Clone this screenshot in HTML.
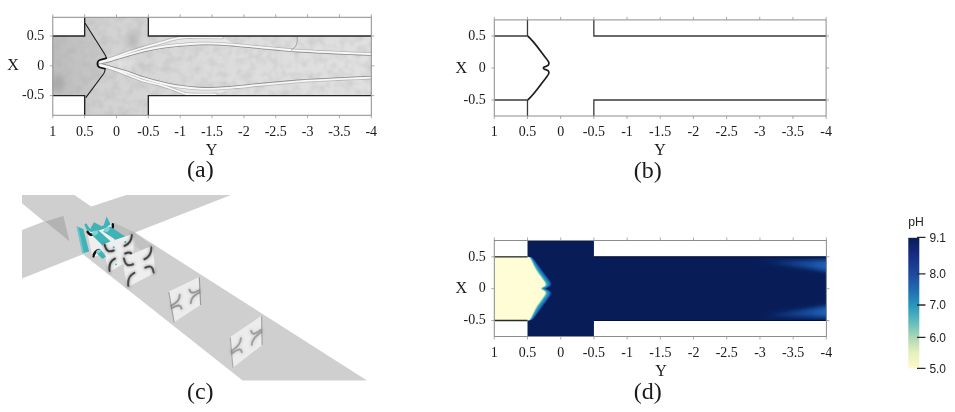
<!DOCTYPE html>
<html lang="en"><head><meta charset="utf-8"><title>Figure</title>
<style>
html,body{margin:0;padding:0;background:#fff;}
body{width:955px;height:412px;overflow:hidden;}
svg{display:block;}
</style></head><body>
<svg width="955" height="412" viewBox="0 0 955 412">
<defs>
<linearGradient id="ga" x1="0" x2="1" y1="0" y2="0">
<stop offset="0" stop-color="#cccccc"/><stop offset="0.3" stop-color="#d6d6d6"/><stop offset="0.6" stop-color="#dedede"/><stop offset="1" stop-color="#e0e0e0"/>
</linearGradient>
<linearGradient id="gl" x1="53" x2="106" y1="0" y2="0" gradientUnits="userSpaceOnUse">
<stop offset="0" stop-color="#bdbdbd"/><stop offset="1" stop-color="#c8c8c8"/></linearGradient>
<filter id="noise" x="0" y="0" width="100%" height="100%"><feTurbulence type="fractalNoise" baseFrequency="0.11" numOctaves="2" seed="11" result="t"/>
<feColorMatrix in="t" type="matrix" values="0 0 0 0 0.42  0 0 0 0 0.42  0 0 0 0 0.42  2.4 0 0 0 -0.95"/></filter>
<filter id="blur0" x="-5%" y="-30%" width="110%" height="160%"><feGaussianBlur stdDeviation="0.45"/></filter>
<filter id="blur1" x="-10%" y="-20%" width="120%" height="140%"><feGaussianBlur stdDeviation="0.7"/></filter>
<filter id="blur2" x="-20%" y="-20%" width="140%" height="140%"><feGaussianBlur stdDeviation="1.2"/></filter>
<filter id="blur2b" x="-20%" y="-40%" width="140%" height="180%"><feGaussianBlur stdDeviation="2.2"/></filter>
<filter id="blur3" x="-20%" y="-20%" width="140%" height="140%"><feGaussianBlur stdDeviation="3"/></filter>
<linearGradient id="cb" x1="0" x2="0" y1="0" y2="1">
<stop offset="0" stop-color="#081d58"/>
<stop offset="0.14" stop-color="#182d85"/>
<stop offset="0.28" stop-color="#1e4a9f"/>
<stop offset="0.40" stop-color="#1e6db0"/>
<stop offset="0.52" stop-color="#2897bd"/>
<stop offset="0.63" stop-color="#58b8bd"/>
<stop offset="0.765" stop-color="#aed8b5"/>
<stop offset="0.88" stop-color="#e6f0bb"/>
<stop offset="1" stop-color="#fff8cf"/>
</linearGradient>
</defs>
<rect width="955" height="412" fill="#fff"/>

<g id="panel-a">
<clipPath id="clipa"><path d="M52.8 36H84.65V17.3H148.35V36H371.3V95.6H148.35V115.3H84.65V95.6H52.8Z"/></clipPath>
<path d="M52.8 36H84.65V17.3H148.35V36H371.3V95.6H148.35V115.3H84.65V95.6H52.8Z" fill="url(#ga)"/>
<g clip-path="url(#clipa)">
<path d="M50 10 H85.3 V23.5 L105.5 56 L99.6 60 L97.4 63.5 L99.6 67.3 L105 69.5 L86 97.3 V120 H50 Z" fill="url(#gl)"/>
<g filter="url(#blur3)">
<ellipse cx="133" cy="40" rx="6" ry="9" fill="#9a9a9a" opacity="0.45"/>
<ellipse cx="58" cy="83" rx="6" ry="8" fill="#8c8c8c" opacity="0.45"/>
<ellipse cx="120" cy="64" rx="16" ry="4" fill="#ececec" opacity="0.7"/>
<ellipse cx="230" cy="65" rx="60" ry="12" fill="#dcdcdc" opacity="0.5"/>
</g>
<rect x="50" y="14" width="325" height="104" filter="url(#noise)" opacity="0.3"/>
<path d="M99.6 61.5 C101.33 61.07,105.43 60.33,110 58.9 C114.57 57.47,121.33 54.8,127 52.9 C132.67 51,138.33 49.2,144 47.5 C149.67 45.8,155.92 44.15,161 42.7 C166.08 41.25,170.55 39.7,174.5 38.8 C178.45 37.9,180.45 37.55,184.7 37.3 C188.95 37.05,193.78 37.25,200 37.3 C206.22 37.35,218.33 37.55,222 37.6 L237 45 C233.83 44.77,224.5 43.85,218 43.6 C211.5 43.35,204.67 43.27,198 43.5 C191.33 43.73,184.17 44.42,178 45 C171.83 45.58,166.67 46.1,161 47 C155.33 47.9,149.67 49.05,144 50.4 C138.33 51.75,132.67 53.47,127 55.1 C121.33 56.73,114.5 58.95,110 60.2 C105.5 61.45,101.67 62.2,100 62.6 Z" fill="#f2f2f2" opacity="0.55"/>
<path d="M99.6 65.9 C101.33 66.28,105.43 66.77,110 68.2 C114.57 69.63,121.33 72.38,127 74.5 C132.67 76.62,138.33 79.12,144 80.9 C149.67 82.68,155.33 83.5,161 85.2 C166.67 86.9,173.77 89.63,178 91.1 C182.23 92.57,183.07 93.43,186.4 94 C189.73 94.57,193.07 94.45,198 94.5 C202.93 94.55,213 94.33,216 94.3 L237 87.2 C233.83 87.43,224.5 88.37,218 88.6 C211.5 88.83,204.67 88.95,198 88.6 C191.33 88.25,184.17 87.43,178 86.5 C171.83 85.57,166.67 84.35,161 83 C155.33 81.65,149.67 80.17,144 78.4 C138.33 76.63,132.67 74.23,127 72.4 C121.33 70.57,114.5 68.67,110 67.4 C105.5 66.13,101.67 65.23,100 64.8 Z" fill="#f2f2f2" opacity="0.55"/>
<g fill="none" stroke-linecap="round" stroke-linejoin="round">
<path d="M100 62.6 C101.67 62.2,105.5 61.45,110 60.2 C114.5 58.95,121.33 56.73,127 55.1 C132.67 53.47,138.33 51.75,144 50.4 C149.67 49.05,155.33 47.9,161 47 C166.67 46.1,171.83 45.58,178 45 C184.17 44.42,191.33 43.73,198 43.5 C204.67 43.27,211.5 43.35,218 43.6 C224.5 43.85,230.58 44.45,237 45 C243.42 45.55,250 46.28,256.5 46.9 C263 47.52,269.58 48.12,276 48.7 C282.42 49.28,287.67 49.88,295 50.4 C302.33 50.92,311.67 51.37,320 51.8 C328.33 52.23,336.45 52.63,345 53 C353.55 53.37,366.92 53.83,371.3 54" stroke="#707070" stroke-width="0.9" opacity="0.85" transform="translate(0,1.3)"/>
<path d="M100 64.8 C101.67 65.23,105.5 66.13,110 67.4 C114.5 68.67,121.33 70.57,127 72.4 C132.67 74.23,138.33 76.63,144 78.4 C149.67 80.17,155.33 81.65,161 83 C166.67 84.35,171.83 85.57,178 86.5 C184.17 87.43,191.33 88.25,198 88.6 C204.67 88.95,211.5 88.83,218 88.6 C224.5 88.37,230.58 87.77,237 87.2 C243.42 86.63,250 85.85,256.5 85.2 C263 84.55,268.75 83.95,276 83.3 C283.25 82.65,291 81.92,300 81.3 C309 80.68,321.67 80.05,330 79.6 C338.33 79.15,343.12 78.92,350 78.6 C356.88 78.28,367.75 77.85,371.3 77.7" stroke="#707070" stroke-width="0.9" opacity="0.85" transform="translate(0,-1.3)"/>
<path d="M99.6 61.5 C101.33 61.07,105.43 60.33,110 58.9 C114.57 57.47,121.33 54.8,127 52.9 C132.67 51,138.33 49.2,144 47.5 C149.67 45.8,155.92 44.15,161 42.7 C166.08 41.25,170.55 39.7,174.5 38.8 C178.45 37.9,180.45 37.55,184.7 37.3 C188.95 37.05,193.78 37.25,200 37.3 C206.22 37.35,218.33 37.55,222 37.6" stroke="#9c9c9c" stroke-width="3.4" opacity="0.6" filter="url(#blur1)"/>
<path d="M100 62.6 C101.67 62.2,105.5 61.45,110 60.2 C114.5 58.95,121.33 56.73,127 55.1 C132.67 53.47,138.33 51.75,144 50.4 C149.67 49.05,155.33 47.9,161 47 C166.67 46.1,171.83 45.58,178 45 C184.17 44.42,191.33 43.73,198 43.5 C204.67 43.27,211.5 43.35,218 43.6 C224.5 43.85,230.58 44.45,237 45 C243.42 45.55,250 46.28,256.5 46.9 C263 47.52,269.58 48.12,276 48.7 C282.42 49.28,287.67 49.88,295 50.4 C302.33 50.92,311.67 51.37,320 51.8 C328.33 52.23,336.45 52.63,345 53 C353.55 53.37,366.92 53.83,371.3 54" stroke="#9c9c9c" stroke-width="3.4" opacity="0.6" filter="url(#blur1)"/>
<path d="M99.6 65.9 C101.33 66.28,105.43 66.77,110 68.2 C114.57 69.63,121.33 72.38,127 74.5 C132.67 76.62,138.33 79.12,144 80.9 C149.67 82.68,155.33 83.5,161 85.2 C166.67 86.9,173.77 89.63,178 91.1 C182.23 92.57,183.07 93.43,186.4 94 C189.73 94.57,193.07 94.45,198 94.5 C202.93 94.55,213 94.33,216 94.3" stroke="#9c9c9c" stroke-width="3.4" opacity="0.6" filter="url(#blur1)"/>
<path d="M100 64.8 C101.67 65.23,105.5 66.13,110 67.4 C114.5 68.67,121.33 70.57,127 72.4 C132.67 74.23,138.33 76.63,144 78.4 C149.67 80.17,155.33 81.65,161 83 C166.67 84.35,171.83 85.57,178 86.5 C184.17 87.43,191.33 88.25,198 88.6 C204.67 88.95,211.5 88.83,218 88.6 C224.5 88.37,230.58 87.77,237 87.2 C243.42 86.63,250 85.85,256.5 85.2 C263 84.55,268.75 83.95,276 83.3 C283.25 82.65,291 81.92,300 81.3 C309 80.68,321.67 80.05,330 79.6 C338.33 79.15,343.12 78.92,350 78.6 C356.88 78.28,367.75 77.85,371.3 77.7" stroke="#9c9c9c" stroke-width="3.4" opacity="0.6" filter="url(#blur1)"/>
<path d="M99.6 61.5 C101.33 61.07,105.43 60.33,110 58.9 C114.57 57.47,121.33 54.8,127 52.9 C132.67 51,138.33 49.2,144 47.5 C149.67 45.8,155.92 44.15,161 42.7 C166.08 41.25,170.55 39.7,174.5 38.8 C178.45 37.9,180.45 37.55,184.7 37.3 C188.95 37.05,193.78 37.25,200 37.3 C206.22 37.35,218.33 37.55,222 37.6" stroke="#f8f8f8" stroke-width="1.8" filter="url(#blur0)"/>
<path d="M100 62.6 C101.67 62.2,105.5 61.45,110 60.2 C114.5 58.95,121.33 56.73,127 55.1 C132.67 53.47,138.33 51.75,144 50.4 C149.67 49.05,155.33 47.9,161 47 C166.67 46.1,171.83 45.58,178 45 C184.17 44.42,191.33 43.73,198 43.5 C204.67 43.27,211.5 43.35,218 43.6 C224.5 43.85,230.58 44.45,237 45 C243.42 45.55,250 46.28,256.5 46.9 C263 47.52,269.58 48.12,276 48.7 C282.42 49.28,287.67 49.88,295 50.4 C302.33 50.92,311.67 51.37,320 51.8 C328.33 52.23,336.45 52.63,345 53 C353.55 53.37,366.92 53.83,371.3 54" stroke="#f8f8f8" stroke-width="1.8" filter="url(#blur0)"/>
<path d="M99.6 65.9 C101.33 66.28,105.43 66.77,110 68.2 C114.57 69.63,121.33 72.38,127 74.5 C132.67 76.62,138.33 79.12,144 80.9 C149.67 82.68,155.33 83.5,161 85.2 C166.67 86.9,173.77 89.63,178 91.1 C182.23 92.57,183.07 93.43,186.4 94 C189.73 94.57,193.07 94.45,198 94.5 C202.93 94.55,213 94.33,216 94.3" stroke="#f8f8f8" stroke-width="1.8" filter="url(#blur0)"/>
<path d="M100 64.8 C101.67 65.23,105.5 66.13,110 67.4 C114.5 68.67,121.33 70.57,127 72.4 C132.67 74.23,138.33 76.63,144 78.4 C149.67 80.17,155.33 81.65,161 83 C166.67 84.35,171.83 85.57,178 86.5 C184.17 87.43,191.33 88.25,198 88.6 C204.67 88.95,211.5 88.83,218 88.6 C224.5 88.37,230.58 87.77,237 87.2 C243.42 86.63,250 85.85,256.5 85.2 C263 84.55,268.75 83.95,276 83.3 C283.25 82.65,291 81.92,300 81.3 C309 80.68,321.67 80.05,330 79.6 C338.33 79.15,343.12 78.92,350 78.6 C356.88 78.28,367.75 77.85,371.3 77.7" stroke="#f8f8f8" stroke-width="1.8" filter="url(#blur0)"/>
</g>
<path d="M297 37 C298 43,296 48,291 50" fill="none" stroke="#8a8a8a" stroke-width="0.9" opacity="0.8"/>
</g>
<path d="M52.8 36H84.65V17.3M148.35 17.3V36H371.3M52.8 95.6H84.65V115.3M148.35 115.3V95.6H371.3" fill="none" stroke="#242424" stroke-width="1.35"/>
<path d="M85.3 23.5 L104.3 53.5 C105.6 55.5,106.2 56.6,106.3 58" fill="none" stroke="#1a1a1a" stroke-width="1.1" stroke-linecap="round"/>
<path d="M106.3 58.3 C104 59,101.5 59.4,99.8 60 C96.6 61.2,96.6 66.2,99.8 67.4 C101.5 68,103.5 68.3,105 68.8" fill="none" stroke="#111" stroke-width="1.6" stroke-linecap="round"/>
<path d="M105 68.8 C105.3 70.5,104.8 72,103.8 73.5 L86 97.3" fill="none" stroke="#1a1a1a" stroke-width="1.1" stroke-linecap="round"/>
<rect x="52.8" y="17.3" width="318.5" height="98" fill="none" stroke="#8c8c8c" stroke-width="1"/>
<path d="M52.8 115.3v3M52.8 17.3v-3M84.65 115.3v3M84.65 17.3v-3M116.5 115.3v3M116.5 17.3v-3M148.35 115.3v3M148.35 17.3v-3M180.2 115.3v3M180.2 17.3v-3M212.05 115.3v3M212.05 17.3v-3M243.9 115.3v3M243.9 17.3v-3M275.75 115.3v3M275.75 17.3v-3M307.6 115.3v3M307.6 17.3v-3M339.45 115.3v3M339.45 17.3v-3M371.3 115.3v3M371.3 17.3v-3M52.8 36h-3M371.3 36h3M52.8 65.8h-3M371.3 65.8h3M52.8 95.6h-3M371.3 95.6h3" fill="none" stroke="#969696" stroke-width="0.8"/>
<g font-family='"Liberation Serif", "DejaVu Serif", serif' font-size="14" fill="#1a1a1a">
<text x="52.8" y="135.6" text-anchor="middle">1</text>
<text x="84.65" y="135.6" text-anchor="middle">0.5</text>
<text x="116.5" y="135.6" text-anchor="middle">0</text>
<text x="148.35" y="135.6" text-anchor="middle">-0.5</text>
<text x="180.2" y="135.6" text-anchor="middle">-1</text>
<text x="212.05" y="135.6" text-anchor="middle">-1.5</text>
<text x="243.9" y="135.6" text-anchor="middle">-2</text>
<text x="275.75" y="135.6" text-anchor="middle">-2.5</text>
<text x="307.6" y="135.6" text-anchor="middle">-3</text>
<text x="339.45" y="135.6" text-anchor="middle">-3.5</text>
<text x="371.3" y="135.6" text-anchor="middle">-4</text>
<text x="44.2" y="39.8" text-anchor="end">0.5</text>
<text x="44.2" y="69.6" text-anchor="end">0</text>
<text x="44.2" y="99.4" text-anchor="end">-0.5</text>
</g>
<text x="211.5" y="154.6" text-anchor="middle" font-family='"Liberation Serif", "DejaVu Serif", serif' font-size="16" fill="#1a1a1a">Y</text>
<text x="13" y="70.3" text-anchor="middle" font-family='"Liberation Serif", "DejaVu Serif", serif' font-size="16" fill="#1a1a1a">X</text>
<text x="200.4" y="177.1" text-anchor="middle" font-family='"Liberation Serif", "DejaVu Serif", serif' font-size="24" fill="#1a1a1a">(a)</text>
</g>
<g id="panel-b">
<path d="M494.3 36H527.48M527.48 19.9V36M593.84 19.9V36H826.1M494.3 100H527.48M527.48 116V100M593.84 116V100H826.1" fill="none" stroke="#3a3a3a" stroke-width="1.3"/>
<path d="M527.6 36 C533 40,541 52,547 59.5 C550 63,549.5 65.5,546 66.3 C542.5 67,542.5 69,546 69.7 C549.5 70.5,550 73,547 76.5 C541 84,533 96,527.6 100" fill="none" stroke="#1e1e1e" stroke-width="1.7"/>
<rect x="494.3" y="19.9" width="331.8" height="96.1" fill="none" stroke="#8c8c8c" stroke-width="1"/>
<path d="M494.3 116v3M494.3 19.9v-3M527.48 116v3M527.48 19.9v-3M560.66 116v3M560.66 19.9v-3M593.84 116v3M593.84 19.9v-3M627.02 116v3M627.02 19.9v-3M660.2 116v3M660.2 19.9v-3M693.38 116v3M693.38 19.9v-3M726.56 116v3M726.56 19.9v-3M759.74 116v3M759.74 19.9v-3M792.92 116v3M792.92 19.9v-3M826.1 116v3M826.1 19.9v-3M494.3 36h-3M826.1 36h3M494.3 68h-3M826.1 68h3M494.3 100h-3M826.1 100h3" fill="none" stroke="#969696" stroke-width="0.8"/>
<g font-family='"Liberation Serif", "DejaVu Serif", serif' font-size="14" fill="#1a1a1a">
<text x="494.3" y="135.6" text-anchor="middle">1</text>
<text x="527.48" y="135.6" text-anchor="middle">0.5</text>
<text x="560.66" y="135.6" text-anchor="middle">0</text>
<text x="593.84" y="135.6" text-anchor="middle">-0.5</text>
<text x="627.02" y="135.6" text-anchor="middle">-1</text>
<text x="660.2" y="135.6" text-anchor="middle">-1.5</text>
<text x="693.38" y="135.6" text-anchor="middle">-2</text>
<text x="726.56" y="135.6" text-anchor="middle">-2.5</text>
<text x="759.74" y="135.6" text-anchor="middle">-3</text>
<text x="792.92" y="135.6" text-anchor="middle">-3.5</text>
<text x="826.1" y="135.6" text-anchor="middle">-4</text>
<text x="485.7" y="39.8" text-anchor="end">0.5</text>
<text x="485.7" y="71.8" text-anchor="end">0</text>
<text x="485.7" y="103.8" text-anchor="end">-0.5</text>
</g>
<text x="660" y="155.3" text-anchor="middle" font-family='"Liberation Serif", "DejaVu Serif", serif' font-size="16" fill="#1a1a1a">Y</text>
<text x="461.3" y="72.5" text-anchor="middle" font-family='"Liberation Serif", "DejaVu Serif", serif' font-size="16" fill="#1a1a1a">X</text>
<text x="647.8" y="178.4" text-anchor="middle" font-family='"Liberation Serif", "DejaVu Serif", serif' font-size="24" fill="#1a1a1a">(b)</text>
</g>
<g id="panel-d">
<clipPath id="clipd"><rect x="494.3" y="256.8" width="70" height="63.7"/></clipPath>
<clipPath id="clipd2"><rect x="593.93" y="256.8" width="232.47" height="63.7"/></clipPath>
<path d="M527.51 240.5H593.93V256.8H826.4V320.5H593.93V336.5H527.51Z" fill="#081d58"/>
<g clip-path="url(#clipd)">
<path d="M480 320.5 V256.8 L529.8 256.8 C530.47 257.13,531.73 256.7,533.8 258.8 C535.87 260.9,539.83 266.37,542.2 269.4 C544.57 272.43,546.48 274.97,548 277 C549.52 279.03,550.63 280.37,551.3 281.6 C551.97 282.83,552.12 283.57,552 284.4 C551.88 285.23,551.3 286.03,550.6 286.6 C549.9 287.17,548.43 287.46,547.8 287.8 C547.17 288.14,546.8 288.37,546.8 288.65 C546.8 288.93,547.17 289.16,547.8 289.5 C548.43 289.84,549.9 290.13,550.6 290.7 C551.3 291.27,551.88 292.07,552 292.9 C552.12 293.73,551.97 294.47,551.3 295.7 C550.63 296.93,549.52 298.27,548 300.3 C546.48 302.33,544.57 304.87,542.2 307.9 C539.83 310.93,535.87 316.4,533.8 318.5 C531.73 320.6,530.47 320.17,529.8 320.5 Z" fill="#0b2775"/>
<path d="M480 320.5 V256.8 L529.55 256.8 C530.18 257.13,531.38 256.7,533.35 258.8 C535.32 260.9,539.05 266.36,541.35 269.4 C543.65 272.44,545.61 275.01,547.12 277.06 C548.64 279.11,549.76 280.46,550.42 281.69 C551.09 282.92,551.24 283.63,551.12 284.45 C551.01 285.27,550.41 286.04,549.73 286.6 C549.04 287.16,547.61 287.45,547 287.79 C546.39 288.13,546.05 288.36,546.05 288.65 C546.05 288.94,546.39 289.17,547 289.51 C547.61 289.85,549.04 290.14,549.73 290.7 C550.41 291.26,551.01 292.03,551.12 292.85 C551.24 293.67,551.09 294.38,550.42 295.61 C549.76 296.84,548.64 298.19,547.12 300.24 C545.61 302.29,543.65 304.86,541.35 307.9 C539.05 310.94,535.32 316.4,533.35 318.5 C531.38 320.6,530.18 320.17,529.55 320.5 Z" fill="#18409a"/>
<path d="M480 320.5 V256.8 L529.3 256.8 C529.9 257.13,531.03 256.7,532.9 258.8 C534.77 260.9,538.27 266.35,540.5 269.4 C542.73 272.45,544.74 275.06,546.25 277.12 C547.76 279.19,548.88 280.55,549.55 281.78 C550.22 283,550.37 283.7,550.25 284.5 C550.13 285.3,549.53 286.05,548.85 286.6 C548.17 287.15,546.79 287.43,546.2 287.77 C545.61 288.12,545.3 288.36,545.3 288.65 C545.3 288.94,545.61 289.18,546.2 289.52 C546.79 289.87,548.17 290.15,548.85 290.7 C549.53 291.25,550.13 292,550.25 292.8 C550.37 293.6,550.22 294.3,549.55 295.52 C548.88 296.75,547.76 298.11,546.25 300.17 C544.74 302.24,542.73 304.85,540.5 307.9 C538.27 310.95,534.77 316.4,532.9 318.5 C531.03 320.6,529.9 320.17,529.3 320.5 Z" fill="#2062ad"/>
<path d="M480 320.5 V256.8 L529.05 256.8 C529.62 257.13,530.68 256.7,532.45 258.8 C534.22 260.9,537.5 266.34,539.65 269.4 C541.8 272.46,543.87 275.11,545.38 277.19 C546.88 279.26,548.01 280.64,548.67 281.86 C549.34 283.09,549.49 283.76,549.38 284.55 C549.26 285.34,548.64 286.06,547.98 286.6 C547.31 287.14,545.97 287.42,545.4 287.76 C544.83 288.1,544.55 288.35,544.55 288.65 C544.55 288.95,544.83 289.2,545.4 289.54 C545.97 289.88,547.31 290.16,547.98 290.7 C548.64 291.24,549.26 291.96,549.38 292.75 C549.49 293.54,549.34 294.21,548.67 295.44 C548.01 296.66,546.88 298.04,545.38 300.11 C543.87 302.19,541.8 304.84,539.65 307.9 C537.5 310.96,534.22 316.4,532.45 318.5 C530.68 320.6,529.62 320.17,529.05 320.5 Z" fill="#1f80b8"/>
<path d="M480 320.5 V256.8 L528.8 256.8 C529.33 257.13,530.33 256.7,532 258.8 C533.67 260.9,536.72 266.32,538.8 269.4 C540.88 272.47,543 275.16,544.5 277.25 C546 279.34,547.13 280.73,547.8 281.95 C548.47 283.18,548.62 283.83,548.5 284.6 C548.38 285.38,547.75 286.08,547.1 286.6 C546.45 287.12,545.15 287.41,544.6 287.75 C544.05 288.09,543.8 288.35,543.8 288.65 C543.8 288.95,544.05 289.21,544.6 289.55 C545.15 289.89,546.45 290.17,547.1 290.7 C547.75 291.22,548.38 291.92,548.5 292.7 C548.62 293.47,548.47 294.12,547.8 295.35 C547.13 296.57,546 297.96,544.5 300.05 C543 302.14,540.88 304.82,538.8 307.9 C536.72 310.97,533.67 316.4,532 318.5 C530.33 320.6,529.33 320.17,528.8 320.5 Z" fill="#1d91c0"/>
<path d="M480 320.5 V256.8 L528.55 256.8 C529.05 257.13,529.98 256.7,531.55 258.8 C533.12 260.9,535.94 266.31,537.95 269.4 C539.96 272.49,542.13 275.21,543.62 277.31 C545.12 279.42,546.26 280.81,546.92 282.04 C547.59 283.26,547.74 283.89,547.62 284.65 C547.51 285.41,546.86 286.09,546.23 286.6 C545.59 287.11,544.33 287.4,543.8 287.74 C543.27 288.08,543.05 288.35,543.05 288.65 C543.05 288.95,543.27 289.22,543.8 289.56 C544.33 289.9,545.59 290.19,546.23 290.7 C546.86 291.21,547.51 291.89,547.62 292.65 C547.74 293.41,547.59 294.04,546.92 295.26 C546.26 296.49,545.12 297.88,543.62 299.99 C542.13 302.09,539.96 304.81,537.95 307.9 C535.94 310.99,533.12 316.4,531.55 318.5 C529.98 320.6,529.05 320.17,528.55 320.5 Z" fill="#2ba0c2"/>
<path d="M480 320.5 V256.8 L528.3 256.8 C528.77 257.13,529.63 256.7,531.1 258.8 C532.57 260.9,535.16 266.3,537.1 269.4 C539.04 272.5,541.26 275.25,542.75 277.38 C544.24 279.5,545.38 280.9,546.05 282.12 C546.72 283.35,546.87 283.95,546.75 284.7 C546.63 285.45,545.98 286.1,545.35 286.6 C544.73 287.1,543.51 287.38,543 287.73 C542.49 288.07,542.3 288.34,542.3 288.65 C542.3 288.96,542.49 289.23,543 289.57 C543.51 289.92,544.73 290.2,545.35 290.7 C545.98 291.2,546.63 291.85,546.75 292.6 C546.87 293.35,546.72 293.95,546.05 295.17 C545.38 296.4,544.24 297.8,542.75 299.92 C541.26 302.05,539.04 304.8,537.1 307.9 C535.16 311,532.57 316.4,531.1 318.5 C529.63 320.6,528.77 320.17,528.3 320.5 Z" fill="#5dbfc0"/>
<path d="M480 320.5 V256.8 L528.05 256.8 C528.48 257.13,529.28 256.7,530.65 258.8 C532.02 260.9,534.38 266.29,536.25 269.4 C538.12 272.51,540.39 275.3,541.88 277.44 C543.36 279.57,544.51 280.99,545.17 282.21 C545.84 283.43,545.99 284.02,545.88 284.75 C545.76 285.48,545.09 286.11,544.48 286.6 C543.86 287.09,542.69 287.37,542.2 287.71 C541.71 288.05,541.55 288.34,541.55 288.65 C541.55 288.96,541.71 289.25,542.2 289.59 C542.69 289.93,543.86 290.21,544.48 290.7 C545.09 291.19,545.76 291.82,545.88 292.55 C545.99 293.28,545.84 293.87,545.17 295.09 C544.51 296.31,543.36 297.73,541.88 299.86 C540.39 302,538.12 304.79,536.25 307.9 C534.38 311.01,532.02 316.4,530.65 318.5 C529.28 320.6,528.48 320.17,528.05 320.5 Z" fill="#c7e9b4"/>
<path d="M480 320.5 V256.8 L527.8 256.8 C528.2 257.13,528.93 256.7,530.2 258.8 C531.47 260.9,533.6 266.28,535.4 269.4 C537.2 272.52,539.52 275.35,541 277.5 C542.48 279.65,543.63 281.08,544.3 282.3 C544.97 283.52,545.12 284.08,545 284.8 C544.88 285.52,544.2 286.12,543.6 286.6 C543 287.08,541.87 287.36,541.4 287.7 C540.93 288.04,540.8 288.33,540.8 288.65 C540.8 288.97,540.93 289.26,541.4 289.6 C541.87 289.94,543 290.22,543.6 290.7 C544.2 291.18,544.88 291.78,545 292.5 C545.12 293.22,544.97 293.78,544.3 295 C543.63 296.22,542.48 297.65,541 299.8 C539.52 301.95,537.2 304.78,535.4 307.9 C533.6 311.02,531.47 316.4,530.2 318.5 C528.93 320.6,528.2 320.17,527.8 320.5 Z" fill="#fffdd6"/>
</g>
<linearGradient id="pg" gradientUnits="userSpaceOnUse" x1="755" x2="828" y1="0" y2="0"><stop offset="0" stop-color="#1b58b0" stop-opacity="0"/><stop offset="0.45" stop-color="#1b58b0" stop-opacity="0.5"/><stop offset="1" stop-color="#1d63b8" stop-opacity="1"/></linearGradient>
<g clip-path="url(#clipd2)"><g filter="url(#blur2b)">
<path d="M755 261 L860 259.5 L860 276 Z" fill="url(#pg)"/>
<path d="M755 316.3 L860 317.8 L860 301.3 Z" fill="url(#pg)"/>
</g></g>
<path d="M494.3 256.8H527.51M494.3 320.5H527.51" fill="none" stroke="#2a2a2a" stroke-width="1.3"/>
<path d="M593.93 256.8H826.4M593.93 320.5H826.4" fill="none" stroke="#05103a" stroke-width="1.2"/>
<rect x="494.3" y="240.5" width="332.1" height="96" fill="none" stroke="#8c8c8c" stroke-width="1"/>
<path d="M494.3 336.5v3M494.3 240.5v-3M527.51 336.5v3M527.51 240.5v-3M560.72 336.5v3M560.72 240.5v-3M593.93 336.5v3M593.93 240.5v-3M627.14 336.5v3M627.14 240.5v-3M660.35 336.5v3M660.35 240.5v-3M693.56 336.5v3M693.56 240.5v-3M726.77 336.5v3M726.77 240.5v-3M759.98 336.5v3M759.98 240.5v-3M793.19 336.5v3M793.19 240.5v-3M826.4 336.5v3M826.4 240.5v-3M494.3 256.8h-3M826.4 256.8h3M494.3 288.65h-3M826.4 288.65h3M494.3 320.5h-3M826.4 320.5h3" fill="none" stroke="#969696" stroke-width="0.8"/>
<g font-family='"Liberation Serif", "DejaVu Serif", serif' font-size="14" fill="#1a1a1a">
<text x="494.3" y="356.8" text-anchor="middle">1</text>
<text x="527.51" y="356.8" text-anchor="middle">0.5</text>
<text x="560.72" y="356.8" text-anchor="middle">0</text>
<text x="593.93" y="356.8" text-anchor="middle">-0.5</text>
<text x="627.14" y="356.8" text-anchor="middle">-1</text>
<text x="660.35" y="356.8" text-anchor="middle">-1.5</text>
<text x="693.56" y="356.8" text-anchor="middle">-2</text>
<text x="726.77" y="356.8" text-anchor="middle">-2.5</text>
<text x="759.98" y="356.8" text-anchor="middle">-3</text>
<text x="793.19" y="356.8" text-anchor="middle">-3.5</text>
<text x="826.4" y="356.8" text-anchor="middle">-4</text>
<text x="485.7" y="260.6" text-anchor="end">0.5</text>
<text x="485.7" y="292.45" text-anchor="end">0</text>
<text x="485.7" y="324.3" text-anchor="end">-0.5</text>
</g>
<text x="661" y="375.8" text-anchor="middle" font-family='"Liberation Serif", "DejaVu Serif", serif' font-size="16" fill="#1a1a1a">Y</text>
<text x="461.3" y="293.15" text-anchor="middle" font-family='"Liberation Serif", "DejaVu Serif", serif' font-size="16" fill="#1a1a1a">X</text>
<text x="647.8" y="398.6" text-anchor="middle" font-family='"Liberation Serif", "DejaVu Serif", serif' font-size="24" fill="#1a1a1a">(d)</text>
</g>

<g id="panel-c">
<path d="M22 195 H74.3 L91.3 206.4 L126.2 195 H231 L135 232.6 L367 380.6 H242.6 L83 254.2 L22 278.4 V229.9 L44 221.4 L22 203.2 Z" fill="#cfcfcf"/>
<path d="M45.2 221.4 L63.4 216 L69.5 241.3 Z" fill="#b3b3b3"/>
<path d="M113.7 222.5 L135 232.6 L133.4 246 L113.7 236 Z" fill="#bdbdbd"/>
<path d="M135 232.6 L152.8 246.2 L152.8 258 L135 246 Z" fill="#c2c2c2"/>
<path d="M87.2 231.2 L113.7 222.5 L114.2 247 L92.5 258 Z" fill="#eeeeee"/>
<path d="M87.6 231.8 q2.5 4.5 7.5 2.2 M112.8 224.3 q1 6 -4.5 6.8 M93.5 256.5 q0.5 -5 5.5 -6.5" fill="none" stroke="#111" stroke-width="2.4" stroke-linecap="round" filter="url(#blur1)"/>
<path d="M76.5 226.2 L83.3 229.1 L89.1 251.5 L82.3 253.4 Z" fill="#3fb3b5"/>
<path d="M76.5 226.2 L78.3 227 L84 253 L82.3 253.4 Z" fill="#86d2d2" opacity="0.7"/>
<path d="M84.3 224.5 L86.2 223.3 L90.1 229.1 L94 222.3 L101.7 226.2 L103.7 225.2 L106.6 216.5 L110.5 224.3 L106 228 L99 230.5 L91 232 L86.5 229.5 Z" fill="#3fb3b5"/>
<path d="M91.5 234.5 L98.5 230.6 L110.5 241.2 L105.2 248.2 Z" fill="#3fb3b5"/>
<path d="M103 231.6 L110 226.6 L126 237 L117.5 241 Z" fill="#3fb3b5"/>
<ellipse cx="95.2" cy="233" rx="3" ry="2.1" transform="rotate(-25 95.2 233)" fill="#86d2d2"/><ellipse cx="106.8" cy="229.6" rx="3" ry="2.1" transform="rotate(-30 106.8 229.6)" fill="#86d2d2"/>
<path d="M102.9 244.3 L133.4 233.6 L133.6 258 L108.5 272.6 Z" fill="#eeeeee"/>
<path d="M104.61 244.75 C106.05 250.67,108.44 252.7,113.73 250.46M109.57 270.89 C108.69 264.71,109.91 261.04,114.91 258.59M131.89 235 C131.7 240.4,129.89 243.65,124.6 245.88M132.33 257.87 C131.96 252.72,130.16 251.11,125.16 253.56" fill="none" stroke="#555" stroke-opacity="0.35" stroke-width="4.20" stroke-linecap="round" filter="url(#blur2)"/><path d="M104.61 244.75 C106.05 250.67,108.44 252.7,113.73 250.46M109.57 270.89 C108.69 264.71,109.91 261.04,114.91 258.59M131.89 235 C131.7 240.4,129.89 243.65,124.6 245.88M132.33 257.87 C131.96 252.72,130.16 251.11,125.16 253.56" fill="none" stroke="#1c1c1c" stroke-opacity="0.78" stroke-width="2.0" stroke-linecap="round" filter="url(#blur1)"/>
<path d="M96 252.5 L100.5 249.3 L106 256.5 L102.5 259 Z" fill="#3fb3b5"/>
<ellipse cx="98.6" cy="251.3" rx="2.6" ry="1.8" transform="rotate(-30 98.6 251.3)" fill="#86d2d2"/>
<circle cx="125.3" cy="242.1" r="1.1" fill="#3fb3b5"/><circle cx="113.7" cy="247.2" r="1" fill="#3fb3b5"/><circle cx="116" cy="264.3" r="0.9" fill="#3fb3b5"/>
<path d="M122.2 258 L152.8 245.6 L155.2 272.8 L127 287.6 Z" fill="#eeeeee"/>
<path d="M123.89 258.41 C125.2 264.62,127.6 266.7,133.11 264.26M128.25 285.83 C127.53 279.35,128.95 275.5,134.32 272.91M151.36 247.18 C151.6 253.18,149.92 256.78,144.41 259.22M153.7 272.58 C152.87 266.85,150.73 265.03,145.36 267.61" fill="none" stroke="#555" stroke-opacity="0.32" stroke-width="4.20" stroke-linecap="round" filter="url(#blur2)"/><path d="M123.89 258.41 C125.2 264.62,127.6 266.7,133.11 264.26M128.25 285.83 C127.53 279.35,128.95 275.5,134.32 272.91M151.36 247.18 C151.6 253.18,149.92 256.78,144.41 259.22M153.7 272.58 C152.87 266.85,150.73 265.03,145.36 267.61" fill="none" stroke="#1c1c1c" stroke-opacity="0.72" stroke-width="2.0" stroke-linecap="round" filter="url(#blur1)"/>
<path d="M168.4 291.7 L199.1 277 L200.5 305.1 L173.7 322.5 Z" fill="#ececec"/>
<path d="M171.42 305.55 C176.62 302.68,179.72 300.33,179.76 294.85M171.83 308.01 C176.98 305.1,180.21 303.92,181.6 308.6M199.17 290.24 C193.96 293.11,190.73 294.29,189.55 289.76M199.28 292.5 C194.14 295.41,191.04 297.76,190.79 303.1" fill="none" stroke="#555" stroke-opacity="0.15" stroke-width="3.99" stroke-linecap="round" filter="url(#blur2)"/><path d="M171.42 305.55 C176.62 302.68,179.72 300.33,179.76 294.85M171.83 308.01 C176.98 305.1,180.21 303.92,181.6 308.6M199.17 290.24 C193.96 293.11,190.73 294.29,189.55 289.76M199.28 292.5 C194.14 295.41,191.04 297.76,190.79 303.1" fill="none" stroke="#1c1c1c" stroke-opacity="0.34" stroke-width="1.9" stroke-linecap="round" filter="url(#blur1)"/>
<path d="M168.8 292 L174.1 322.3 M199.3 277.4 L200.6 305" stroke="#6a6a6a" stroke-width="1.2" filter="url(#blur1)" opacity="0.55"/>
<path d="M229.9 337.2 L261.4 315.8 L262 345.2 L232.5 368 Z" fill="#ececec"/>
<path d="M231.71 350.93 C237.21 346.96,240.54 343.93,240.97 338.22M231.91 353.39 C237.39 349.4,240.77 347.57,241.86 352.17M261.06 329.76 C255.56 333.73,252.17 335.56,251.19 331.03M261.12 332.12 C255.64 336.11,252.32 339.14,251.77 344.77" fill="none" stroke="#555" stroke-opacity="0.14" stroke-width="3.99" stroke-linecap="round" filter="url(#blur2)"/><path d="M231.71 350.93 C237.21 346.96,240.54 343.93,240.97 338.22M231.91 353.39 C237.39 349.4,240.77 347.57,241.86 352.17M261.06 329.76 C255.56 333.73,252.17 335.56,251.19 331.03M261.12 332.12 C255.64 336.11,252.32 339.14,251.77 344.77" fill="none" stroke="#1c1c1c" stroke-opacity="0.3" stroke-width="1.9" stroke-linecap="round" filter="url(#blur1)"/>
<path d="M230.3 337.5 L232.9 367.7 M261.6 316.3 L262.1 345" stroke="#7a7a7a" stroke-width="1.2" filter="url(#blur1)" opacity="0.55"/>
<text x="200.3" y="398.5" text-anchor="middle" font-family='"Liberation Serif", "DejaVu Serif", serif' font-size="24" fill="#1a1a1a">(c)</text>
</g>
<g id="colorbar">
<rect x="908.3" y="237.8" width="11" height="130.6" fill="url(#cb)"/>
<path d="M917 237.3H925.5M917 273.8H925.5M917 305H925.5M917 337.3H925.5M917 368.3H925.5" stroke="#2b2b2b" stroke-width="1.3" fill="none"/>
<g font-family='"Liberation Sans", "DejaVu Sans", sans-serif' font-size="12" fill="#222">
<text x="929.4" y="241.5" textLength="16.6" lengthAdjust="spacingAndGlyphs">9.1</text>
<text x="929.4" y="278" textLength="16.6" lengthAdjust="spacingAndGlyphs">8.0</text>
<text x="929.4" y="309.2" textLength="16.6" lengthAdjust="spacingAndGlyphs">7.0</text>
<text x="929.4" y="341.5" textLength="16.6" lengthAdjust="spacingAndGlyphs">6.0</text>
<text x="929.4" y="372.5" textLength="16.6" lengthAdjust="spacingAndGlyphs">5.0</text>
<text x="908.2" y="225.6" font-size="12.2">pH</text>
</g></g>
</svg></body></html>
